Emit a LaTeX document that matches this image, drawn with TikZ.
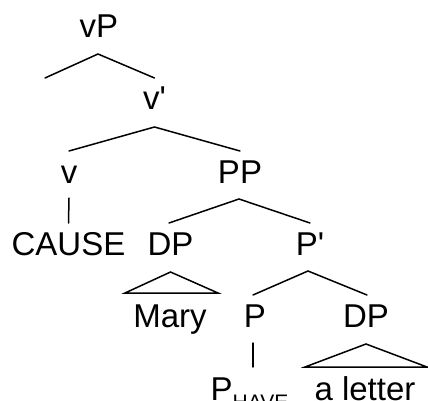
\documentclass[tikz,border=0pt]{standalone}
\usepackage{fontspec}
\newfontfamily\treefont{Liberation Sans}
\begin{document}
\begin{tikzpicture}[x=1pt,y=-1pt,
  lab/.style={anchor=base,inner sep=0pt,font=\treefont\fontsize{33}{39}\selectfont},
  branch/.style={line width=1.5pt,line cap=round,line join=miter}]
\useasboundingbox (0,0) rectangle (428,401);

% category labels and words (placed on their baselines)
\node[lab] (vP)    at (99,38)    {vP};
\node[lab] (vbar)  at (154.5,110) {v'};
\node[lab] (v)     at (69,183)   {v};
\node[lab] (PP)    at (240,183)  {PP};
\node[lab] (cause) at (68.5,255) {CAUSE};
\node[lab] (DPa)   at (170.5,255) {DP};
\node[lab] (Pbar)  at (310,255)  {P'};
\node[lab] (mary)  at (170,327)  {Mary};
\node[lab] (P)     at (255,327)  {P};
\node[lab] (DPb)   at (366,327)  {DP};
\node[lab,anchor=base west] (phave) at (210.5,400)
  {P{\fontsize{21}{21}\selectfont\raisebox{-9pt}{HAVE}}};
\node[lab] (letter) at (365,400) {a letter};

% empty specifier of vP
\coordinate (spec) at (45,78);

% branches
\draw[branch] (spec) -- ([xshift=-1pt,yshift=-16pt]vP.base)
  -- ([yshift=32pt]vbar.base);
\draw[branch] ([yshift=32pt]v.base) -- ([yshift=-17pt]vbar.base)
  -- ([yshift=32pt]PP.base);
\draw[branch] ([yshift=-15pt]v.base) -- ([yshift=32pt]cause.base);
\draw[branch] ([yshift=32pt,xshift=-1.5pt]DPa.base) -- ([xshift=-1pt,yshift=-16pt]PP.base)
  -- ([yshift=32pt]Pbar.base);
\draw[branch] ([xshift=-2pt,yshift=32pt]P.base) -- ([xshift=-2pt,yshift=-16pt]Pbar.base)
  -- ([xshift=1pt,yshift=32pt]DPb.base);
\draw[branch] ([xshift=-2pt,yshift=-16pt]P.base) -- ([xshift=-2pt,yshift=-40pt]P.base);

% triangles over phrasal constituents
\draw[branch] ([yshift=-17pt]DPa.base) -- ([xshift=48pt,yshift=34pt]mary.base)
  -- ([xshift=-45pt,yshift=34pt]mary.base) -- cycle;
\draw[branch] ([yshift=-17pt]DPb.base) -- ([xshift=62pt,yshift=33pt]letter.base)
  -- ([xshift=-60pt,yshift=33pt]letter.base) -- cycle;
\end{tikzpicture}
\end{document}
